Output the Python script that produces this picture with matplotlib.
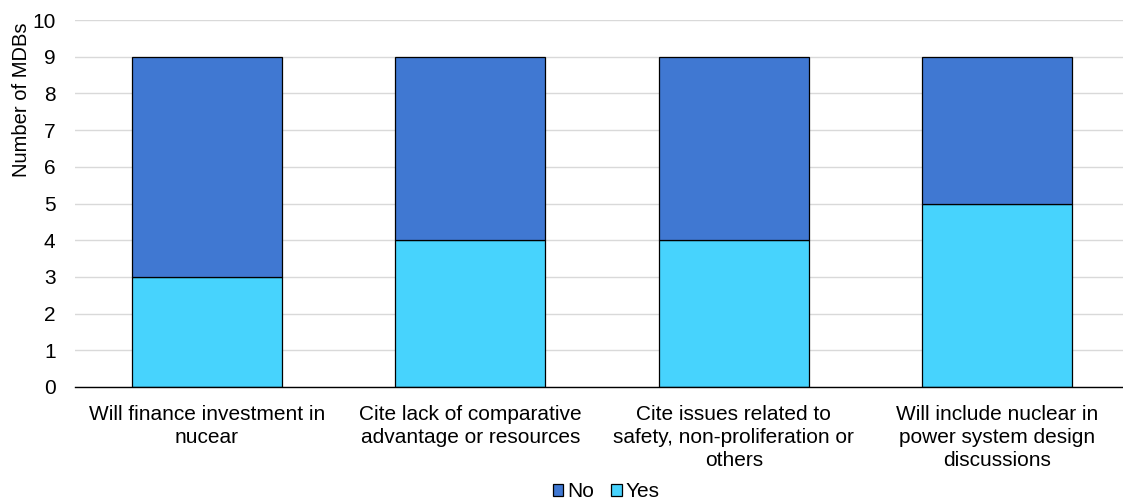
import matplotlib
matplotlib.use('Agg')
import matplotlib.pyplot as plt
import numpy as np

categories = ['Will finance investment in\nnucear',
              'Cite lack of comparative\nadvantage or resources',
              'Cite issues related to\nsafety, non-proliferation or\nothers',
              'Will include nuclear in\npower system design\ndiscussions']
yes_vals = [3, 4, 4, 5]
no_vals = [6, 5, 5, 4]

C_NO = '#4078D2'
C_YES = '#47D3FD'

plt.rcParams['font.family'] = ['Liberation Sans', 'DejaVu Sans']

fig = plt.figure(figsize=(11.23, 5.0), dpi=100)
ax = fig.add_axes([75/1123, 1-387/500, 1-75/1123, (387-20)/500])

x = np.arange(len(categories))
w = 0.57
ax.bar(x, yes_vals, w, color=C_YES, edgecolor='black', lw=0.9, label='Yes', zorder=3)
ax.bar(x, no_vals, w, bottom=yes_vals, color=C_NO, edgecolor='black', lw=0.9, label='No', zorder=3)

ax.set_xlim(-0.5, 3.477)
ax.set_ylim(0, 10)
ax.set_yticks(range(0, 11))
ax.yaxis.grid(True, color='#D9D9D9', lw=1, zorder=0)
for s in ['top', 'right', 'left']:
    ax.spines[s].set_visible(False)
ax.spines['bottom'].set_color('black')
ax.spines['bottom'].set_linewidth(1.0)
ax.spines['bottom'].set_zorder(4)
ax.tick_params(axis='both', length=0, labelsize=15, colors='black')
ax.tick_params(axis='y', pad=14)
ax.set_xticks(x)
ax.set_xticklabels(categories, fontsize=15, linespacing=1.28)
ax.tick_params(axis='x', pad=13)
ax.set_ylabel('Number of MDBs', fontsize=14.5)
ax.yaxis.set_label_coords(-0.042, 0.782)

h, l = ax.get_legend_handles_labels()
fig.legend(h[::-1], l[::-1], loc='lower center', bbox_to_anchor=(0.54, -0.04), ncol=2,
           frameon=False, fontsize=15, handlelength=0.5, handleheight=0.5,
           handletextpad=0.2, columnspacing=0.8)

plt.savefig('out.png', dpi=100)
